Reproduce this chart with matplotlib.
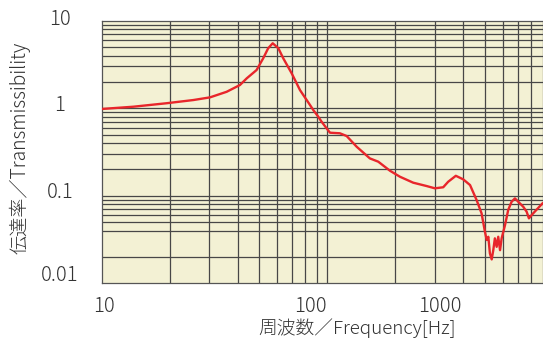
import matplotlib
matplotlib.use("Agg")
import matplotlib.pyplot as plt
import matplotlib.transforms as mtransforms
from matplotlib.ticker import NullLocator

plt.rcParams['font.family'] = ['Noto Sans CJK JP', 'DejaVu Sans']
plt.rcParams['font.weight'] = 'light'

# transmissibility curve (frequency in Hz, ratio)
freq = [10, 13.8, 19.4, 25.5, 30.2, 35.8, 41.0, 44.0, 48.6, 52.0, 54.7, 57.3,
        60.7, 63.8, 69.5, 75.7, 83.8, 86.7, 91.2, 94.4, 102.8, 113.8, 121.9,
        135, 154.5, 168.3, 189.7, 209.9, 240.4, 276, 300, 326.6, 343.6, 371.5,
        400.6, 429.5, 459.3, 483.1, 500, 509, 517.6, 526, 535.8, 544.5, 553.4,
        563.6, 572.8, 583.4, 593, 613.8, 634, 656.2, 679.2, 703, 739.6, 765.6,
        783.4, 818.4, 900]
trans = [0.98, 1.04, 1.14, 1.24, 1.33, 1.54, 1.84, 2.20, 2.73, 3.72, 4.84, 5.52,
         4.84, 3.72, 2.51, 1.61, 1.09, 0.953, 0.80, 0.70, 0.525, 0.517, 0.481,
         0.363, 0.267, 0.245, 0.193, 0.165, 0.141, 0.129, 0.1216, 0.125, 0.1445,
         0.169, 0.154, 0.1325, 0.0893, 0.063, 0.0388, 0.0312, 0.034, 0.022,
         0.01875, 0.0239, 0.0326, 0.0261, 0.034, 0.0239, 0.0326, 0.0462, 0.0687,
         0.0853, 0.0933, 0.0853, 0.0748, 0.0656, 0.0552, 0.063, 0.0818]

# log-paper grid lines
x_grid = [20, 30, 40, 50, 60, 70, 80, 90, 100, 200, 300, 400, 500, 600, 700, 800]
y_grid = [0.02, 0.04, 0.05, 0.06, 0.07, 0.08, 0.09, 0.1,
          0.2, 0.3, 0.4, 0.5, 0.6, 0.7, 0.8, 0.9, 1,
          2, 3, 4, 5, 6, 7, 8, 9]

# tick labels (placed where the original shows them)
xtick_pos = [10.2, 84, 316]
xtick_labels = ['10', '100', '1000']
ytick_pos = [0.01, 0.1, 1, 10]
ytick_labels = ['0.01', '0.1', '1', '10']

text_color = '#333333'
grid_color = '#474747'

fig = plt.figure(figsize=(5.43, 3.40), dpi=100)
ax = fig.add_axes([0.1873, 0.1668, 0.8118, 0.7724])
ax.set_facecolor('#f3f1d4')
ax.set_xscale('log')
ax.set_yscale('log')
ax.set_xlim(10, 900)
ax.set_ylim(0.01, 10)

for x in x_grid:
    ax.axvline(x, color=grid_color, lw=0.9, zorder=1)
for y in y_grid:
    ax.axhline(y, color=grid_color, lw=0.9, zorder=1)

ax.plot(freq, trans, color='#e8262b', lw=1.7, zorder=3)

ax.set_xticks(xtick_pos, xtick_labels)
ax.set_yticks(ytick_pos, ytick_labels)
ax.xaxis.set_minor_locator(NullLocator())
ax.yaxis.set_minor_locator(NullLocator())
ax.tick_params(length=0, labelsize=14.5, colors=text_color)
ax.tick_params(axis='x', pad=9)
ax.tick_params(axis='y', pad=30)

for sp in ax.spines.values():
    sp.set_color('#555555')
    sp.set_linewidth(0.9)

# y labels sit centred and a little above their lines
y_shift = [10, 6, 5, 4]
for lbl, dy in zip(ax.get_yticklabels(), y_shift):
    lbl.set_horizontalalignment('center')
    lbl.set_transform(lbl.get_transform() +
                      mtransforms.ScaledTranslation(0, dy / 100, fig.dpi_scale_trans))

fig.text(357 / 543, 1 - 328 / 340, '周波数／Frequency[Hz]', fontsize=13.5,
         color=text_color, ha='center', va='center')
fig.text(20 / 543, 1 - 148 / 340, '伝達率／Transmissibility', fontsize=13.8,
         color=text_color, ha='center', va='center', rotation=90)

fig.savefig('out.png', dpi=100)
